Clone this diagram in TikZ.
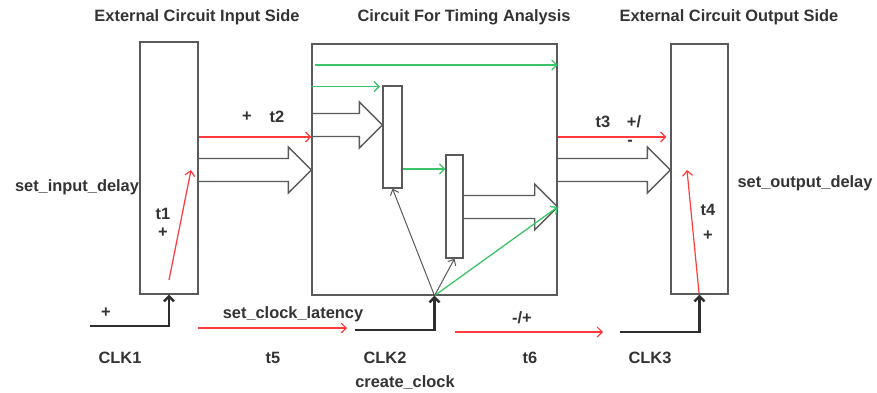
\documentclass[tikz,border=0pt]{standalone}
\usepackage{fontspec}
\setmainfont{Liberation Sans}
\definecolor{boxgray}{HTML}{5A5A5A}
\definecolor{txtgray}{HTML}{333333}
\definecolor{newred}{HTML}{FF3B3B}
\definecolor{newgreen}{HTML}{3CC46A}
\usetikzlibrary{arrows.meta, calc, positioning}

\tikzset{
	blk/.style={draw=boxgray, line width=1.3pt, inner sep=0, fill=white},
	lbl/.style={font=\fontsize{16.4}{19}\selectfont\bfseries, text=txtgray, inner sep=0},
	redarr/.style={draw=newred, line width=1.2pt, -{Straight Barb[length=5pt, width=10pt]}},
	greenarr/.style={draw=newgreen, line width=1.3pt, -{Straight Barb[length=5pt, width=10pt]}},
	grayarr/.style={draw=boxgray, line width=1pt, -{Straight Barb[length=5pt, width=9pt]}},
	clk/.style={draw=txtgray!90!black, line width=2.4pt, -{Straight Barb[length=5pt, width=10pt]}},
	fat/.style={draw=boxgray, line width=1.3pt, line join=miter}
}

\newcommand{\fatarrow}[2]{
	\draw[fat] ($(#1)+(0,-11.5)$) -- ($(#2)+(-23,-11.5)$) -- ($(#2)+(-23,-23)$) -- (#2)
		-- ($(#2)+(-23,23)$) -- ($(#2)+(-23,11.5)$) -- ($(#1)+(0,11.5)$);
}

\begin{document}
\begin{tikzpicture}[x=1pt, y=-1pt]
	\useasboundingbox (0,0) rectangle (877,392);
	% boxes
	\node[blk, minimum width=58, minimum height=252] at (169,168) (inbox) {};
	\node[blk, minimum width=245, minimum height=251] at (434.5,169.5) (cut) {};
	\node[blk, minimum width=57, minimum height=250] at (699.5,169) (outbox) {};
	\node[blk, minimum width=19, minimum height=102] at (392.5,137) (b1) {};
	\node[blk, minimum width=17, minimum height=103] at (454.5,206.5) (b2) {};

	% titles
	\node[lbl] at (197,17) (tin) {External Circuit Input Side};
	\node[lbl] at (464,17) (tcut) {Circuit For Timing Analysis};
	\node[lbl] at (729,17) (tout) {External Circuit Output Side};

	% wide data arrows
	\fatarrow{inbox.east |- 0,170}{cut.west |- 0,170}
	\fatarrow{cut.west |- 0,125}{b1.west |- 0,125}
	\fatarrow{b2.east |- 0,207}{cut.east |- 0,207}
	\fatarrow{cut.east |- 0,170}{outbox.west |- 0,170}

	% green paths
	\coordinate (g1) at (315,65);
	\draw[greenarr] (g1) -- (cut.east |- g1);
	\coordinate (g2) at (380,86.5);
	\draw[greenarr] (cut.west |- g2) -- (g2);
	\draw[greenarr] (b1.east |- 0,169) -- (b2.west |- 0,169);
	\draw[greenarr] (cut.south) -- (cut.east |- 0,207);

	% clock to registers
	\draw[grayarr] (cut.south) -- (b1.south);
	\draw[grayarr] (cut.south) -- (b2.south);

	% red timing arrows
	\draw[redarr] (inbox.east |- 0,137) -- (cut.west |- 0,137);
	\draw[redarr] (cut.east |- 0,137) -- ([xshift=-4pt]outbox.west |- 0,137);
	\coordinate (r1) at (169,280);
	\draw[redarr] (r1) -- (191,170);
	\coordinate (r4) at (699,293);
	\draw[redarr] (r4) -- (687,170);
	\coordinate (r5) at (198,328);
	\draw[redarr] (r5) -- (347,328);
	\coordinate (r6) at (455,332);
	\draw[redarr] (r6) -- (603,332);

	% clocks
	\coordinate (c1) at (90,326);
	\coordinate (c2) at (355,330);
	\coordinate (c3) at (620,332);
	\draw[clk] (c1) -| (inbox.south);
	\draw[clk] (c2) -| (cut.south);
	\draw[clk] (c3) -| (outbox.south);

	% labels
	\node[lbl] at (247,117) (p2) {+};
	\node[lbl] at (277,117) (t2) {t2};
	\node[lbl] at (77,187) (sid) {set\_input\_delay};
	\node[lbl] at (163,214) (t1) {t1};
	\node[lbl] at (163,233) (p1) {+};
	\node[lbl] at (106,313) (pc1) {+};
	\node[lbl] at (293,314) (scl) {set\_clock\_latency};
	\node[lbl] at (120,358) (clk1) {CLK1};
	\node[lbl] at (273,358) (t5) {t5};
	\node[lbl] at (385,358) (clk2) {CLK2};
	\node[lbl] at (405,383) (cc) {create\_clock};
	\node[lbl] at (522,318) (pm6) {-/+};
	\node[lbl] at (530,358) (t6) {t6};
	\node[lbl] at (650,358) (clk3) {CLK3};
	\node[lbl] at (603,122) (t3) {t3};
	\node[lbl] at (634,122) (pm3) {+/};
	\node[lbl] at (630,143) (m3) {-};
	\node[lbl] at (805,183) (sod) {set\_output\_delay};
	\node[lbl] at (708,210) (t4) {t4};
	\node[lbl] at (708,236) (p4) {+};
\end{tikzpicture}
\end{document}
